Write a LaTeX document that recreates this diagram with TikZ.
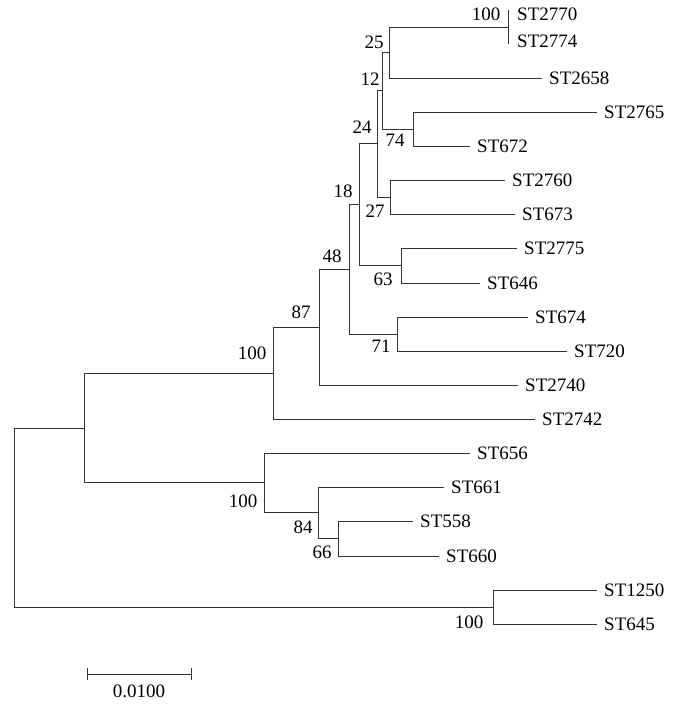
\documentclass[tikz,border=0pt]{standalone}
\usepackage{fontspec}
\setmainfont{Liberation Serif}
\usetikzlibrary{positioning,calc}
\tikzset{
    branch/.style={line width=0.9pt, black!80},
    leaf/.style={inner sep=0pt, font=\fontsize{19}{19}\selectfont},
    boot/.style={inner sep=0pt, font=\fontsize{19}{19}\selectfont},
}
\begin{document}
\begin{tikzpicture}[x=1pt, y=-1pt]
    \useasboundingbox (0,0) rectangle (690,705);
    % tips and their labels
    \foreach \name/\x/\y/\dy in {2770/510/10/-4, 2774/510/44/3, 2658/542/78/0, 2765/597/112/0,
        672/470/146/0, 2760/505/180/0, 673/515/214/0, 2775/517/248/0, 646/480/283/0,
        674/528/317/0, 720/567/351/0, 2740/518/385/0, 2742/535/419/0, 656/470/453/0,
        661/444/487/0, 558/413/521/0, 660/439/556/0, 1250/597/590/0, 645/597/624/0} {
        \coordinate (t\name) at (\x,\y);
        \node[leaf, right=7pt of t\name, yshift=\dy pt] (l\name) {ST\name};
    }
    % inner nodes
    \coordinate (nE) at (508,27);
    \coordinate (n25) at (389,52.5);
    \coordinate (n74) at (413,129);
    \coordinate (n12) at (382,90.8);
    \coordinate (n27) at (390,197);
    \coordinate (n24) at (377,143.9);
    \coordinate (n63) at (401,265.5);
    \coordinate (n18) at (359,204.7);
    \coordinate (n71) at (397,334);
    \coordinate (n48) at (349,269.4);
    \coordinate (n87) at (319,327.2);
    \coordinate (nB) at (273,373.1);
    \coordinate (n66) at (338,538.5);
    \coordinate (n84) at (318,512.8);
    \coordinate (nC) at (264,482.9);
    \coordinate (nA) at (84,428);
    \coordinate (nD) at (493,607);
    \coordinate (root) at (14,517.5);

    % branches
    \draw[branch] (nE) -- ([xshift=-2pt]t2770) (nE) -- ([xshift=-2pt]t2774);
    \draw[branch] (n25) |- (nE) (n25) |- (t2658);
    \draw[branch] (n74) |- (t2765) (n74) |- (t672);
    \draw[branch] (n12) |- (n25) (n12) |- (n74);
    \draw[branch] (n27) |- (t2760) (n27) |- (t673);
    \draw[branch] (n24) |- (n12) (n24) |- (n27);
    \draw[branch] (n63) |- (t2775) (n63) |- (t646);
    \draw[branch] (n18) |- (n24) (n18) |- (n63);
    \draw[branch] (n71) |- (t674) (n71) |- (t720);
    \draw[branch] (n48) |- (n18) (n48) |- (n71);
    \draw[branch] (n87) |- (n48) (n87) |- (t2740);
    \draw[branch] (nB) |- (n87) (nB) |- (t2742);
    \draw[branch] (n66) |- (t558) (n66) |- (t660);
    \draw[branch] (n84) |- (t661) (n84) |- (n66);
    \draw[branch] (nC) |- (t656) (nC) |- (n84);
    \draw[branch] (nA) |- (nB) (nA) |- (nC);
    \draw[branch] (nD) |- (t1250) (nD) |- (t645);
    \draw[branch] (root) |- (nA) (root) |- (nD);

    % bootstrap values
    \foreach \name/\x/\y/\val in {E/486/14/100, 25/374/42/25, 12/370/79/12, 24/362/127/24,
        74/395/140/74, 27/375/211/27, 18/343/191/18, 63/383/279/63, 48/332/256/48,
        71/381/346/71, 87/301/312/87, B/252/353/100, C/243/501/100, 84/303/527/84,
        66/322/552/66, D/469/622/100} {
        \node[boot] (b\name) at (\x,\y) {\val};
    }

    % scale bar
    \coordinate (sL) at (87,674);
    \coordinate (sR) at (191,674);
    \draw[branch] (sL) -- (sR);
    \draw[branch] ([yshift=6pt]sL) -- ([yshift=-6pt]sL);
    \draw[branch] ([yshift=6pt]sR) -- ([yshift=-6pt]sR);
    \node[boot, below=11pt of $(sL)!0.5!(sR)$] (scale) {0.0100};
\end{tikzpicture}
\end{document}
